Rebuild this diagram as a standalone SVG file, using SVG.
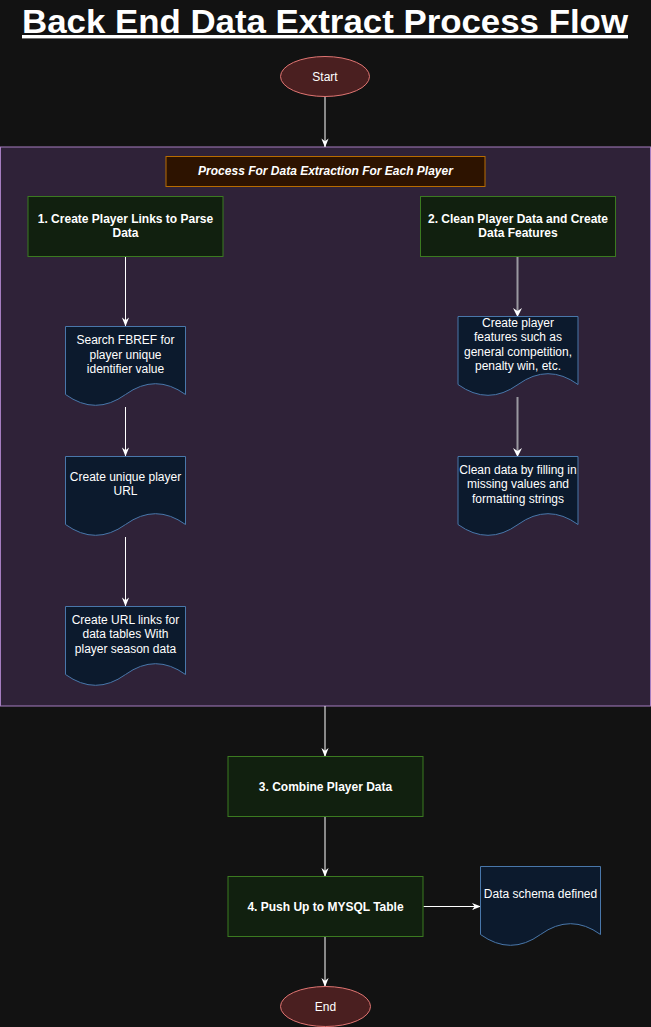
<svg xmlns="http://www.w3.org/2000/svg" width="651" height="1027" viewBox="0 0 651 1027">
<style>
text{font-family:"Liberation Sans",Arial,Helvetica,sans-serif;fill:#ffffff;font-size:12px;text-anchor:middle}
.b{font-weight:bold}
.term{fill:#4a1f20;stroke:#e07572;stroke-width:1}
.step{fill:#11200f;stroke:#3b7a20;stroke-width:1}
.doc{fill:#0c1a2d;stroke:#4977aa;stroke-width:1}
.c{fill:none;stroke:#ffffff;stroke-width:1}
.cg{fill:none;stroke:#9a98a0;stroke-width:2}
</style>
<defs>
<marker id="ah" viewBox="0 0 10 10" refX="9.5" refY="5" markerWidth="9" markerHeight="9" markerUnits="userSpaceOnUse" orient="auto">
<path d="M0,1 L10,5 L0,9 L3,5 z" fill="#ffffff"/>
</marker>
<marker id="ah2" viewBox="0 0 10 10" refX="9.5" refY="5" markerWidth="4.5" markerHeight="4.5" orient="auto">
<path d="M0,1 L10,5 L0,9 L3,5 z" fill="#ffffff"/>
</marker>
<path id="docshape" d="M0,0 H120 V68 Q90,46.4 60,68 Q30,89.6 0,68 Z"/>
</defs>
<rect x="0" y="0" width="651" height="1027" fill="#121212"/>
<text x="325" y="33" class="b" style="font-size:34px;text-decoration:underline" textLength="606" lengthAdjust="spacingAndGlyphs">Back End Data Extract Process Flow</text>

<g id="container">
<rect x="0.5" y="147" width="650" height="559" fill="#2f2238" stroke="#a57dc0" stroke-width="1"/>
</g>
<g id="container-title">
<rect x="166" y="156.5" width="319" height="30" fill="#2d1300" stroke="#b86c00" stroke-width="1"/>
<text x="325.5" y="175" class="b" font-style="italic">Process For Data Extraction For Each Player</text>
</g>

<g id="connectors">
<line class="c" x1="325" y1="97" x2="325" y2="147" marker-end="url(#ah)"/>
<line class="c" x1="125.5" y1="257" x2="125.5" y2="326" marker-end="url(#ah)"/>
<line class="c" x1="125.5" y1="407" x2="125.5" y2="456" marker-end="url(#ah)"/>
<line class="c" x1="125.5" y1="537" x2="125.5" y2="606" marker-end="url(#ah)"/>
<line class="cg" x1="517.5" y1="257" x2="517.5" y2="312"/>
<path d="M513,308 L517.5,317 L522,308 L517.5,311 z" fill="#ffffff"/>
<line class="cg" x1="517.5" y1="397" x2="517.5" y2="452"/>
<path d="M513,448 L517.5,457 L522,448 L517.5,451 z" fill="#ffffff"/>
<line class="c" x1="325" y1="706" x2="325" y2="756.5" marker-end="url(#ah)"/>
<line class="c" x1="325" y1="817" x2="325" y2="876.5" marker-end="url(#ah)"/>
<line class="c" x1="423.5" y1="906.5" x2="480.5" y2="906.5" marker-end="url(#ah)"/>
<line class="c" x1="325" y1="937" x2="325" y2="986.5" marker-end="url(#ah)"/>
</g>

<g id="start">
<ellipse class="term" cx="325" cy="76.5" rx="44.5" ry="20"/>
<text x="325" y="80.5">Start</text>
</g>

<g id="step1">
<rect class="step" x="28" y="196.5" width="195" height="60"/>
<text x="125.5" y="222.5" class="b">1. Create Player Links to Parse</text>
<text x="125.5" y="237" class="b">Data</text>
</g>

<g id="step2">
<rect class="step" x="420.5" y="196.5" width="195" height="60"/>
<text x="518" y="222.5" class="b">2. Clean Player Data and Create</text>
<text x="518" y="237" class="b">Data Features</text>
</g>

<g id="doc-search">
<use href="#docshape" class="doc" x="65.5" y="326.5"/>
<text x="125.5" y="344">Search FBREF for</text>
<text x="125.5" y="358.5">player unique</text>
<text x="125.5" y="373">identifier value</text>
</g>

<g id="doc-url">
<use href="#docshape" class="doc" x="65.5" y="456.5"/>
<text x="125.5" y="480.5">Create unique player</text>
<text x="125.5" y="495">URL</text>
</g>

<g id="doc-links">
<use href="#docshape" class="doc" x="65.5" y="606.5"/>
<text x="125.5" y="623.5">Create URL links for</text>
<text x="125.5" y="638">data tables With</text>
<text x="125.5" y="652.5">player season data</text>
</g>

<g id="doc-features">
<use href="#docshape" class="doc" x="458" y="316.5"/>
<text x="518" y="326.5">Create player</text>
<text x="518" y="341">features such as</text>
<text x="518" y="355.5">general competition,</text>
<text x="518" y="370">penalty win, etc.</text>
</g>

<g id="doc-clean">
<use href="#docshape" class="doc" x="458" y="456.5"/>
<text x="518" y="473.5">Clean data by filling in</text>
<text x="518" y="488">missing values and</text>
<text x="518" y="502.5">formatting strings</text>
</g>

<g id="step3">
<rect class="step" x="228" y="756.5" width="195" height="60"/>
<text x="325.5" y="790.5" class="b">3. Combine Player Data</text>
</g>

<g id="step4">
<rect class="step" x="228" y="876.5" width="195" height="60"/>
<text x="325.5" y="910.5" class="b">4. Push Up to MYSQL Table</text>
</g>

<g id="doc-schema">
<use href="#docshape" class="doc" x="480.5" y="866.5"/>
<text x="540.5" y="898">Data schema defined</text>
</g>

<g id="end">
<ellipse class="term" cx="325.5" cy="1006.5" rx="45" ry="20"/>
<text x="325.5" y="1010.5">End</text>
</g>
</svg>
